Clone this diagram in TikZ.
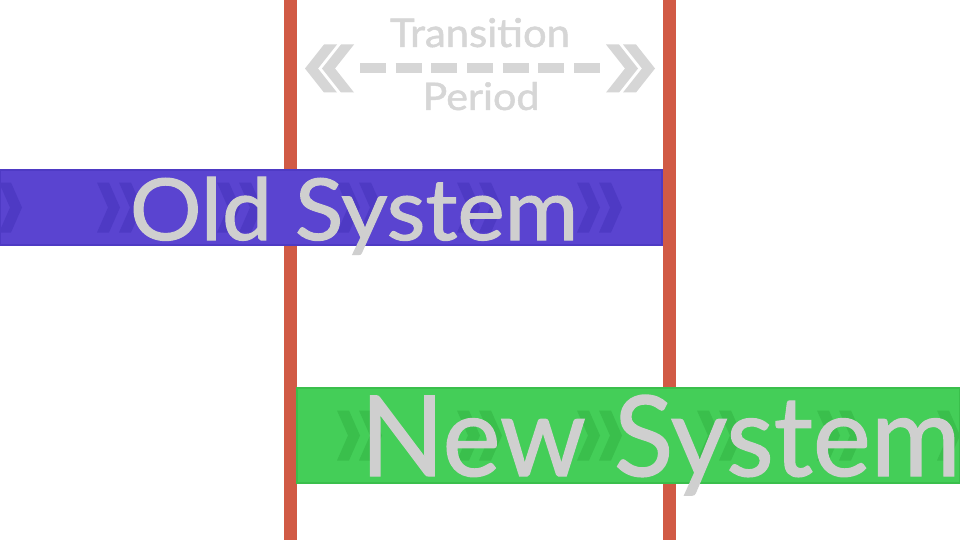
\documentclass[tikz,border=0pt]{standalone}
\usepackage{fontspec}
\setmainfont{Lato}[FakeBold=1.2]
\definecolor{linered}{HTML}{D15A45}
\definecolor{oldfill}{HTML}{5A44D0}
\definecolor{olddark}{HTML}{4E3AC4}
\definecolor{newfill}{HTML}{44CE58}
\definecolor{newdark}{HTML}{3ABF4C}
\definecolor{labelgray}{HTML}{CFCFCF}
\definecolor{hintgray}{HTML}{D6D6D6}
\tikzset{
  cutline/.style={linered, line width=13pt},
  barlabel/.style={anchor=base, inner sep=0pt, text=labelgray},
  hint/.style={anchor=base, inner sep=0pt, text=hintgray},
}
\begin{document}
\begin{tikzpicture}[x=1pt,y=-1pt]
\useasboundingbox[fill=white] (0,0) rectangle (960,540);
% the two cut-over lines
\draw[cutline] (290.5,0) -- (290.5,540);
\draw[cutline] (669,0) -- (669,540);
% old system bar
\begin{scope}
  \clip (0,170) rectangle (662,245);
  \fill[oldfill] (0,170) rectangle (662,245);
  \foreach \x in {-23,97,...,577}
    \foreach \d in {0,22}
      \fill[olddark] ({\x+\d},182.5) -- ++(12,0) -- ++(11,25) -- ++(-11,25)
        -- ++(-12,0) -- ++(11,-25) -- cycle;
\end{scope}
\draw[olddark, line width=1.5pt] (0,170) rectangle (662,245);
% new system bar
\begin{scope}
  \clip (297,388) rectangle (960,483);
  \fill[newfill] (297,388) rectangle (960,483);
  \foreach \x in {217,337,...,937}
    \foreach \d in {0,22}
      \fill[newdark] ({\x+\d},410.5) -- ++(12,0) -- ++(11,25) -- ++(-11,25)
        -- ++(-12,0) -- ++(11,-25) -- cycle;
\end{scope}
\draw[newdark, line width=1.5pt] (297,388) rectangle (960,483);
% transition period arrow
\coordinate (lt) at (360,68.5);
\coordinate (rt) at (600,68.5);
\draw[hintgray, line width=10pt, dash pattern=on 26pt off 9.67pt] (lt) -- (rt);
\foreach \a in {305,322}
  \fill[hintgray] (\a,68.5) -- ++(19,-24) -- ++(13,0) -- ++(-19,24)
    -- ++(19,24) -- ++(-13,0) -- cycle;
\foreach \a in {655,638}
  \fill[hintgray] (\a,68.5) -- ++(-19,-24) -- ++(-13,0) -- ++(19,24)
    -- ++(-19,24) -- ++(13,0) -- cycle;
% labels
\node[hint] (trans) at (480,47) {\resizebox{180pt}{29pt}{Transition}};
\node[hint] (period) at (481,110) {\resizebox{117pt}{28pt}{Period}};
\node[barlabel] (old) at (354,240) {\resizebox{448pt}{63pt}{Old System}};
\node[barlabel] (new) at (660.5,476) {\resizebox{600pt}{81pt}{New System}};
\end{tikzpicture}
\end{document}
